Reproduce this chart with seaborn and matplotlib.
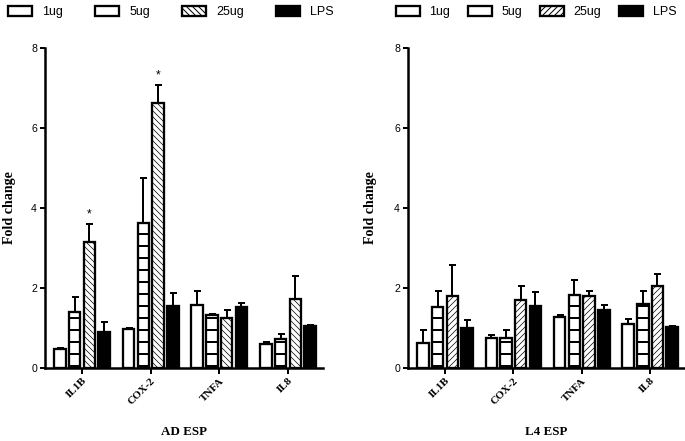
import pandas as pd
import matplotlib
matplotlib.use('Agg')
import matplotlib.pyplot as plt
import seaborn as sns

# Datos
genes = ['IL1B', 'COX-2', 'TNFA', 'IL8']
doses = ['1ug', '5ug', '25ug', 'LPS']

ad_mean = {
    '1ug': [0.48, 0.97, 1.575, 0.61],
    '5ug': [1.40, 3.62, 1.32, 0.73],
    '25ug': [3.14, 6.62, 1.26, 1.73],
    'LPS': [0.91, 1.56, 1.525, 1.04],
}
ad_err = {
    '1ug': [0.03, 0.02, 0.34, 0.03],
    '5ug': [0.375, 1.14, 0.03, 0.12],
    '25ug': [0.47, 0.46, 0.20, 0.56],
    'LPS': [0.25, 0.32, 0.10, 0.03],
}
l4_mean = {
    '1ug': [0.625, 0.75, 1.27, 1.10],
    '5ug': [1.52, 0.75, 1.82, 1.60],
    '25ug': [1.79, 1.69, 1.79, 2.06],
    'LPS': [1.00, 1.56, 1.46, 1.02],
}
l4_err = {
    '1ug': [0.335, 0.07, 0.06, 0.12],
    '5ug': [0.41, 0.20, 0.37, 0.32],
    '25ug': [0.78, 0.37, 0.14, 0.29],
    'LPS': [0.19, 0.33, 0.11, 0.04],
}
# asteriscos sobre 25ug en AD ESP
ad_sig = ['IL1B', 'COX-2']

colors = ['white', 'white', 'white', 'black']
sans = ['Liberation Sans', 'DejaVu Sans']
serif = ['Liberation Serif', 'DejaVu Serif']


def to_long(means, errs):
    rows = []
    for d in doses:
        for g, m, e in zip(genes, means[d], errs[d]):
            rows.append({'gene': g, 'dose': d, 'value': m, 'err': e})
    return pd.DataFrame(rows)


def draw_panel(ax, means, errs, hatch25, title, sig):
    df = to_long(means, errs)
    sns.barplot(data=df, x='gene', y='value', hue='dose', order=genes,
                hue_order=doses, palette=colors, width=0.86, gap=0.22,
                edgecolor='black', linewidth=2.3, errorbar=None, ax=ax,
                legend=False)
    hatches = ['', '-', hatch25, '']
    for cont, h, d in zip(ax.containers, hatches, doses):
        sub = df[df['dose'] == d].set_index('gene').loc[genes]
        xs, ys = [], []
        for bar, g in zip(cont, genes):
            bar.set_hatch(h)
            if hasattr(bar, 'set_hatch_linewidth'):
                bar.set_hatch_linewidth(2.0 if h == '-' else 0.7)
            xs.append(bar.get_x() + bar.get_width() / 2)
            ys.append(bar.get_height())
        ax.errorbar(xs, ys, yerr=[[0] * len(xs), sub['err'].values],
                    fmt='none', ecolor='black', elinewidth=2, capsize=3.5,
                    capthick=2, zorder=5)
        if d == '25ug':
            for x, y, g, e in zip(xs, ys, genes, sub['err'].values):
                if g in sig:
                    ax.text(x, y + e + 0.24, '*', ha='center', va='center',
                            fontsize=12, family=sans)

    ax.set_ylim(0, 8)
    ax.set_xlim(-0.54, 3.51)
    ax.set_yticks([0, 2, 4, 6, 8])
    sns.despine(ax=ax)
    for s in ['left', 'bottom']:
        ax.spines[s].set_linewidth(2.5)
    ax.tick_params(axis='y', length=5, width=2, labelsize=10.5, pad=3)
    ax.tick_params(axis='x', length=6, width=2, pad=2)
    for lab in ax.get_yticklabels():
        lab.set_family(sans)
    ax.set_xticks(range(len(genes)))
    ax.set_xticklabels(genes, rotation=45, ha='right', rotation_mode='anchor',
                       family=serif, fontweight='bold', fontsize=11)
    ax.set_ylabel('Fold change', family=serif, fontweight='bold', fontsize=14)
    ax.set_xlabel(title, family=serif, fontweight='bold', fontsize=13)
    ax.xaxis.label.set_va('center')
    ax.yaxis.label.set_va('center')
    return ax.containers


plt.rcParams['hatch.linewidth'] = 1.0
fig = plt.figure(figsize=(685 / 72, 441 / 72), dpi=72)
ax1 = fig.add_axes([45 / 685, 73 / 441, 278 / 685, 320 / 441])
ax2 = fig.add_axes([408 / 685, 73 / 441, 277 / 685, 320 / 441])

c1 = draw_panel(ax1, ad_mean, ad_err, '\\\\\\\\', 'AD ESP', ad_sig)
c2 = draw_panel(ax2, l4_mean, l4_err, '////', 'L4 ESP', [])

ax1.yaxis.set_label_coords(-0.126, 0.5)
ax2.yaxis.set_label_coords(-0.137, 0.5)
ax1.xaxis.set_label_coords(0.5, -0.2)
ax2.xaxis.set_label_coords(0.5, -0.2)

fig.legend([c[0] for c in c1], doses, loc='center', bbox_to_anchor=(171 / 685, 1 - 12 / 441),
           ncol=4, frameon=False, handlelength=1.9, handleheight=0.8,
           handletextpad=0.8, columnspacing=2.6, prop={'family': sans, 'size': 12.5})
fig.legend([c[0] for c in c2], doses, loc='center', bbox_to_anchor=(536 / 685, 1 - 12 / 441),
           ncol=4, frameon=False, handlelength=1.9, handleheight=0.8,
           handletextpad=0.8, columnspacing=1.4, prop={'family': sans, 'size': 12.5})

fig.savefig('out.png', dpi=72)
